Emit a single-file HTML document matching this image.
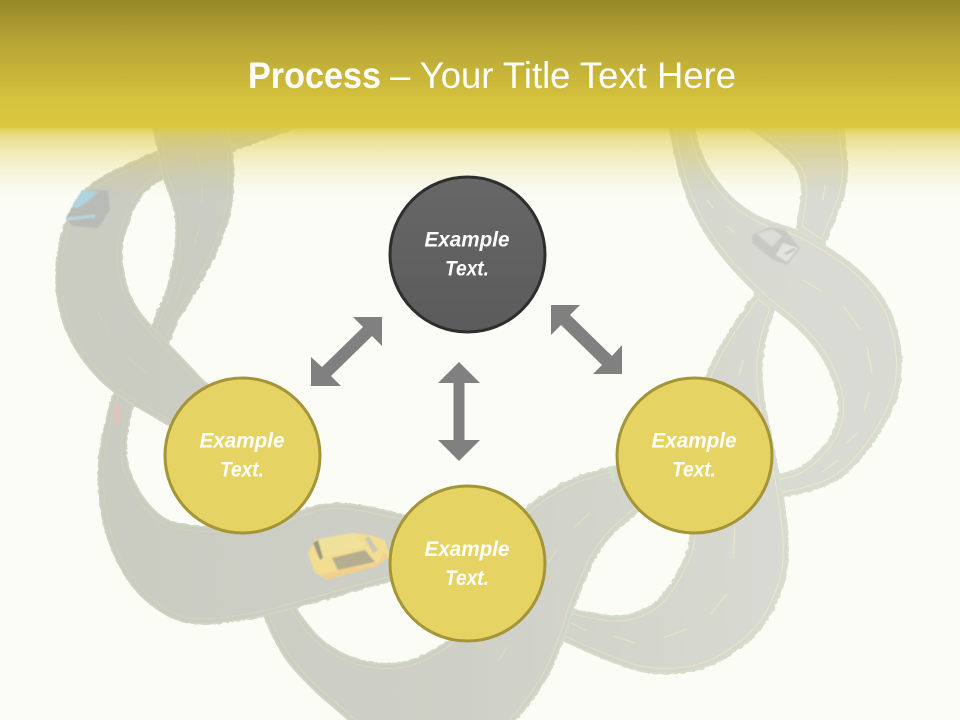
<!DOCTYPE html>
<html lang="en">
<head>
<meta charset="utf-8">
<title>Process</title>
<style>
html,body{margin:0;padding:0;background:#fbfcf6}
svg{display:block}
text{font-family:"Liberation Sans",Arial,sans-serif;fill:#fff}
.lab{font-size:21px;font-weight:bold;font-style:italic;text-anchor:middle}
.rim{fill:url(#asphalt);stroke:url(#verge);stroke-width:3.5;stroke-linejoin:round;filter:url(#rough)}
.ln{fill:none;stroke:url(#paint);stroke-width:9}
.cv{fill:none;stroke:url(#asphalt);stroke-width:7}
.dash{fill:none;stroke:url(#paint);stroke-width:1.2}
</style>
</head>
<body>
<svg width="960" height="720" viewBox="0 0 960 720" xmlns="http://www.w3.org/2000/svg">
<defs>
<linearGradient id="asphalt" gradientUnits="userSpaceOnUse" x1="100" y1="0" x2="800" y2="0">
<stop offset="0" stop-color="#cacbc1"/><stop offset="0.5" stop-color="#ced0c7"/><stop offset="1" stop-color="#d9dad3"/>
</linearGradient>
<linearGradient id="verge" gradientUnits="userSpaceOnUse" x1="100" y1="0" x2="800" y2="0">
<stop offset="0" stop-color="#ced2c3"/><stop offset="1" stop-color="#d6e0cd"/>
</linearGradient>
<linearGradient id="paint" gradientUnits="userSpaceOnUse" x1="100" y1="0" x2="800" y2="0">
<stop offset="0" stop-color="#d0d0bb"/><stop offset="0.45" stop-color="#dcdabd"/><stop offset="1" stop-color="#ece8c4"/>
</linearGradient>
<linearGradient id="head" gradientUnits="userSpaceOnUse" x1="0" y1="0" x2="0" y2="197">
<stop offset="0" stop-color="#968727"/>
<stop offset="0.2" stop-color="#b5a335"/>
<stop offset="0.52" stop-color="#d6c33e"/>
<stop offset="0.645" stop-color="#dcc83e"/>
<stop offset="0.655" stop-color="#dcc83e" stop-opacity="0.85"/>
<stop offset="0.69" stop-color="#dcc83e" stop-opacity="0.58"/>
<stop offset="0.76" stop-color="#dcc83e" stop-opacity="0.38"/>
<stop offset="0.865" stop-color="#dcc83e" stop-opacity="0.16"/>
<stop offset="0.965" stop-color="#dcc83e" stop-opacity="0.03"/>
<stop offset="1" stop-color="#dcc83e" stop-opacity="0"/>
</linearGradient>
<linearGradient id="dark" x1="0" y1="0" x2="0" y2="1">
<stop offset="0" stop-color="#676767"/><stop offset="1" stop-color="#5b5b5b"/>
</linearGradient>
<filter id="rough" x="-5%" y="-5%" width="110%" height="110%">
<feTurbulence type="fractalNoise" baseFrequency="0.22" numOctaves="2" seed="4"/>
<feDisplacementMap in="SourceGraphic" scale="3"/>
</filter>
<filter id="soft" x="-10%" y="-10%" width="120%" height="120%"><feGaussianBlur stdDeviation="0.8"/></filter>

<path id="g" d="M747 125 Q793 157 799 172 Q805 187 801 207 L798 228 L823 245 Q843 200 845 186 Q848 173 845 150 L843 125 Z"/>
<path id="m" d="M670 125 Q680 183 695 213 Q710 243 735 270 Q760 297 780 312 Q800 327 813 343 Q827 360 834 380 Q842 400 839 416 Q837 433 822 450 Q807 467 793 472 L755 482 L760 500 L788 495 Q830 487 846 472 Q863 457 878 433 Q893 410 898 388 Q903 367 898 340 Q893 313 878 293 Q863 273 843 259 Q823 245 806 236 Q790 228 775 224 Q760 220 743 208 Q727 197 712 175 Q697 153 693 125 Z"/>
<path id="e" d="M757 293 Q733 327 721 347 Q710 367 700 393 Q690 420 690 460 Q690 500 691 518 Q693 537 688 552 Q683 567 670 587 Q657 607 638 613 Q620 620 598 615 L566 609 L558 637 Q613 663 636 669 Q660 675 686 671 Q713 667 738 648 Q763 630 775 603 Q787 577 787 558 Q788 540 784 511 Q780 483 776 465 Q773 447 766 417 Q760 387 761 363 Q763 340 769 323 L775 307 Z"/>
<path id="d" d="M263 610 Q277 650 297 671 Q317 693 335 707 L375 742 L495 742 L513 722 Q543 687 553 663 Q563 640 571 613 Q580 587 593 560 Q607 533 640 510 L620 465 Q603 470 583 476 Q563 483 545 495 Q527 507 513 523 Q500 540 475 590 L450 640 Q427 657 408 662 Q390 667 370 663 Q350 660 331 648 Q313 637 293 605 Z"/>
<path id="c" d="M122 375 L113 398 Q103 433 100 458 Q98 483 102 511 Q107 540 120 565 Q133 590 153 605 Q173 620 190 622 Q207 624 233 620 Q260 617 290 608 Q320 600 355 590 L430 570 L430 525 L400 515 Q367 507 350 505 Q333 503 316 507 Q300 512 280 520 Q260 528 230 528 Q200 528 181 525 Q163 523 148 505 Q133 487 127 465 Q122 443 132 405 L140 385 Z"/>
<path id="b" d="M230 125 Q157 152 137 161 Q117 170 102 178 Q87 187 77 202 Q67 217 62 237 Q57 257 57 282 Q58 307 67 330 Q77 353 95 373 Q113 393 141 408 L205 445 L235 405 L203 382 Q173 350 163 340 Q153 330 143 318 Q133 307 126 287 Q120 267 121 250 Q123 233 130 215 Q137 197 150 186 Q163 175 198 163 L300 125 Z"/>
<path id="a" d="M153 125 L156 137 Q160 150 161 163 Q163 177 170 193 Q177 210 177 225 Q178 240 174 263 Q170 287 161 307 L150 332 L165 350 L177 320 Q190 300 201 280 Q213 260 221 238 Q230 217 232 192 Q234 167 230 146 L226 125 Z"/>

<clipPath id="cg"><use href="#g"/></clipPath>
<clipPath id="cm"><use href="#m"/></clipPath>
<clipPath id="ce"><use href="#e"/></clipPath>
<clipPath id="cd"><use href="#d"/></clipPath>
<clipPath id="cc"><use href="#c"/></clipPath>
<clipPath id="cb"><use href="#b"/></clipPath>
<clipPath id="ca"><use href="#a"/></clipPath>
<clipPath id="lowE"><rect x="600" y="400" width="300" height="320"/></clipPath>
<clipPath id="lowB"><rect x="0" y="300" width="300" height="200"/></clipPath>
</defs>

<rect width="960" height="720" fill="#fbfcf6"/>

<!-- road pieces, back to front -->
<use href="#g" class="rim"/><g clip-path="url(#cg)"><use href="#g" class="ln"/><use href="#g" class="cv"/></g>
<use href="#e" class="rim"/><g clip-path="url(#ce)"><use href="#e" class="ln"/><use href="#e" class="cv"/></g>
<use href="#m" class="rim"/><g clip-path="url(#cm)"><use href="#m" class="ln"/><use href="#m" class="cv"/></g>
<g clip-path="url(#lowE)"><use href="#e" class="rim"/><g clip-path="url(#ce)"><use href="#e" class="ln"/><use href="#e" class="cv"/></g></g>
<use href="#d" class="rim"/><g clip-path="url(#cd)"><use href="#d" class="ln"/><use href="#d" class="cv"/></g>
<use href="#c" class="rim"/><g clip-path="url(#cc)"><use href="#c" class="ln"/><use href="#c" class="cv"/></g>
<use href="#b" class="rim"/><g clip-path="url(#cb)"><use href="#b" class="ln"/><use href="#b" class="cv"/></g>
<use href="#a" class="rim"/><g clip-path="url(#ca)"><use href="#a" class="ln"/><use href="#a" class="cv"/></g>
<g clip-path="url(#lowB)"><use href="#b" class="rim"/><g clip-path="url(#cb)"><use href="#b" class="ln"/><use href="#b" class="cv"/></g></g>

<!-- lane dashes -->
<path class="dash" d="M707 200L713 208M727 226L734 233M803 280L821 291M844 307L860 329M867 347L872 374M869 392L864 412M857 433L847 443M838 460L822 472M825 185L823 200M743 360L739 375"/>
<path class="dash" d="M735 527L733 559M727 593L711 614M687 629L663 638M635 643L613 636M587 631L571 623M589 513L575 527M556 551L548 563M507 647L499 660"/>
<path class="dash" d="M197 152L199 167M202 183L202 203M200 225L194 245M184 277L177 297M97 310L110 333M127 357L147 373"/>

<!-- cars -->
<g filter="url(#soft)">
<path d="M66 218 L82 190 L108 190 L110 210 L98 228 L72 226 Z" fill="#b9bbb7"/>
<path d="M72 207 L83 190 L98 192 L92 198 L78 208 Z" fill="#aed5df"/>
<path d="M67 219 L95 216" stroke="#b9d7dc" stroke-width="3" fill="none"/>

<path d="M115 404 L120 404 L119 424 L114 423 Z" fill="#e4c2b8"/>

<path d="M752 235 L770 227 L785 230 L800 248 L787 265 L773 260 L752 243 Z" fill="#c8c9c4"/>
<path d="M757 234 L772 229 L782 236 L772 247 Z" fill="#dcdcd8"/>
<path d="M783 243 L798 248 L787 262 L776 255 Z" fill="#e3e4df"/>
<path d="M785 254 L795 249" stroke="#c2c3bd" stroke-width="2.5" fill="none"/>

<path d="M608 467 L612 466 L617 482 L613 484 Z" fill="#cfe3c6"/>

<path d="M308 553 L315 540 L352 533 L370 535 L385 540 L390 557 L378 563 L325 578 L315 573 Z" fill="#f2dd92"/>
<path d="M315 540 L352 533 L367 547 L332 555 L322 558 Z" fill="#f0e19a"/>
<path d="M332 558 L365 550 L375 562 L338 570 Z" fill="#b5ad90"/>
<path d="M365 538 L369 537 L378 550 L373 553 Z" fill="#c9c6b6"/>
<path d="M313 543 L318 540 L323 558 L320 560 Z" fill="#9e9a80"/>
<path d="M322 574 L378 563 L384 552 L388 557 L378 566 L326 580 Z" fill="#f1d08c"/>
</g>

<!-- header band -->
<rect x="0" y="0" width="960" height="197" fill="url(#head)"/>
<text x="248" y="88" font-size="37" font-weight="bold" textLength="133" lengthAdjust="spacingAndGlyphs">Process</text>
<text x="390" y="88" font-size="37" textLength="346" lengthAdjust="spacingAndGlyphs">– Your Title Text Here</text>

<!-- arrows -->
<polygon fill="#808080" points="382,317 353,317 363,327 322,367 311,357 311,386 341,386 331,376 372,336 382,346"/>
<polygon fill="#808080" points="551,305 580,305 570,315 612,356 622,345 622,374 593,374 602,365 561,325 551,335"/>
<polygon fill="#808080" points="459,362 480,383 464.5,383 464.5,440 480,440 459,461 438,440 453.5,440 453.5,383 438,383"/>

<!-- circles -->
<circle cx="467.5" cy="254.5" r="77.5" fill="url(#dark)" stroke="#2e2e2e" stroke-width="3"/>
<circle cx="242.5" cy="455.5" r="77.5" fill="#e5d464" stroke="#a39538" stroke-width="3"/>
<circle cx="467.5" cy="563.5" r="77.5" fill="#e5d464" stroke="#a39538" stroke-width="3"/>
<circle cx="694.5" cy="455.5" r="77.5" fill="#e5d464" stroke="#a39538" stroke-width="3"/>

<text class="lab" x="467" y="246.5" textLength="85" lengthAdjust="spacingAndGlyphs">Example</text>
<text class="lab" x="467" y="275.5" textLength="44" lengthAdjust="spacingAndGlyphs">Text.</text>
<text class="lab" x="242" y="447.5" textLength="85" lengthAdjust="spacingAndGlyphs">Example</text>
<text class="lab" x="242" y="476.5" textLength="44" lengthAdjust="spacingAndGlyphs">Text.</text>
<text class="lab" x="467" y="556" textLength="85" lengthAdjust="spacingAndGlyphs">Example</text>
<text class="lab" x="467" y="585" textLength="44" lengthAdjust="spacingAndGlyphs">Text.</text>
<text class="lab" x="694" y="447.5" textLength="85" lengthAdjust="spacingAndGlyphs">Example</text>
<text class="lab" x="694" y="476.5" textLength="44" lengthAdjust="spacingAndGlyphs">Text.</text>
</svg>
</body>
</html>
